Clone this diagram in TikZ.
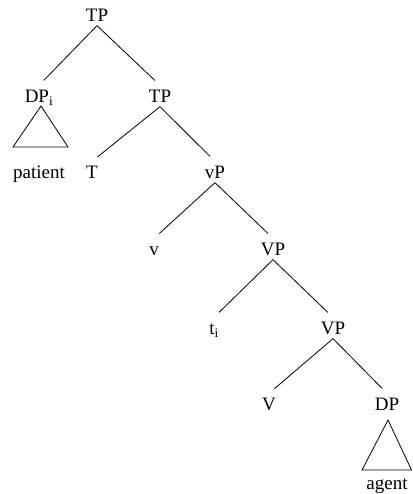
\documentclass[tikz,border=0pt]{standalone}
\usepackage{fontspec}
\setmainfont{Liberation Serif}
\usepackage{tikz}
\tikzset{>=latex}
\tikzset{cat/.style={inner xsep=0pt, inner ysep=4pt, text height=12.5pt,
    text depth=0pt, font=\fontsize{19}{21}\selectfont}}
\tikzset{branch/.style={shorten >=7pt}}

\begin{document}
\begin{tikzpicture}[x=1pt, y=-1pt, line width=0.8pt]
    \useasboundingbox (0,0) rectangle (412,494);

    \node [cat] (TP) at (97, 15) {TP};
    \node [cat] (DPi) at (39, 96) {DP\textsubscript{i}};
    \node [cat] (TPb) at (160, 96) {TP};
    \node [cat] (patient) at (39, 172) {patient};
    \node [cat] (T) at (92, 172) {T};
    \node [cat] (vP) at (215, 172) {vP};
    \node [cat] (v) at (154, 249) {v};
    \node [cat] (VP) at (273, 249) {VP};
    \node [cat] (ti) at (214, 328) {t\textsubscript{i}};
    \node [cat] (VPb) at (333, 328) {VP};
    \node [cat] (V) at (269, 404) {V};
    \node [cat] (DP) at (387, 404) {DP};
    \node [cat] (agent) at (387, 483) {agent};

    \draw [branch] (TP.south) -- (DPi.north);
    \draw [branch] (TP.south) -- (TPb.north);
    \draw [branch] (TPb.south) -- (T.north);
    \draw [branch] (TPb.south) -- (vP.north);
    \draw [branch] (vP.south) -- (v.north);
    \draw [branch] (vP.south) -- (VP.north);
    \draw [branch] (VP.south) -- (ti.north);
    \draw [branch] (VP.south) -- (VPb.north);
    \draw [branch] (VPb.south) -- (V.north);
    \draw [branch] (VPb.south) -- (DP.north);

    % roofs
    \draw (41, 106) -- (13, 147) -- (68, 147) -- cycle;
    \draw (388, 420) -- (362, 470) -- (411.5, 470) -- cycle;
\end{tikzpicture}
\end{document}
